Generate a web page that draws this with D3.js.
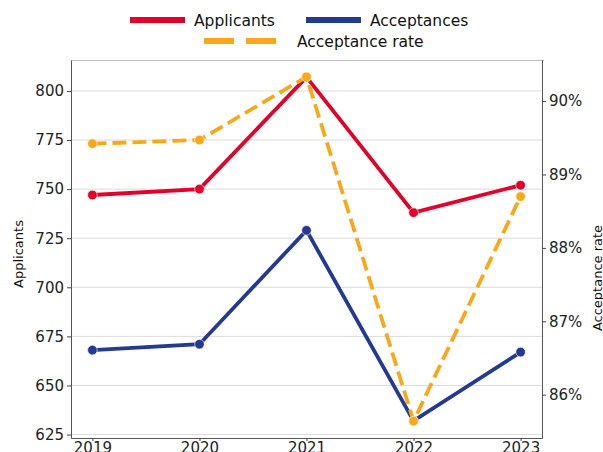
<!DOCTYPE html>
<html>
<head>
<meta charset="utf-8">
<script src="https://cdn.jsdelivr.net/npm/d3@7"></script>
<style>
  body { margin: 0; background: #fff; }
  svg { display: block; font-family: "DejaVu Sans", sans-serif; }
</style>
</head>
<body>
<svg width="603" height="452"></svg>
<script>
// data
const years = [2019, 2020, 2021, 2022, 2023]
const applicants = [747, 750, 807, 738, 752]
const acceptances = [668, 671, 729, 632, 667]
const acceptanceRate = [89.42, 89.47, 90.33, 85.64, 88.70]
const leftTicks = [625, 650, 675, 700, 725, 750, 775, 800]
const rightTicks = [86, 87, 88, 89, 90]

const red = "#e1002a", blue = "#243a92", orange = "#f8a91b"

const svg = d3.select("svg")
const plotLeft = 71, plotRight = 542, plotTop = 60, plotBottom = 438

const xScale = d3.scaleLinear().domain([2018.8, 2023.2]).range([plotLeft, plotRight])
const yLeft = d3.scaleLinear().domain([623.25, 815.75]).range([plotBottom, plotTop])
const yRight = d3.scaleLinear().domain([85.41, 90.56]).range([plotBottom, plotTop])

// grid
svg.append("g")
    .selectAll("line")
    .data(leftTicks)
    .enter()
    .append("line")
    .attr("x1", plotLeft).attr("x2", plotRight)
    .attr("y1", d => yLeft(d)).attr("y2", d => yLeft(d))
    .attr("stroke", "#dcdcdc")
    .attr("stroke-width", 1)

// top spine
svg.append("line")
    .attr("x1", plotLeft).attr("x2", plotRight + 2)
    .attr("y1", plotTop + 0.5).attr("y2", plotTop + 0.5)
    .attr("stroke", "#bbb")

function styleAxis(g) {
    g.selectAll("text").attr("font-size", 15).attr("fill", "#222")
    g.selectAll("line").attr("stroke", "#444")
    g.select("path.domain").attr("stroke", "#555")
    g.attr("font-family", "DejaVu Sans, sans-serif")
}

svg.append("g")
    .attr("transform", `translate(${plotLeft},0)`)
    .call(d3.axisLeft(yLeft).tickValues(leftTicks).tickSize(4).tickSizeOuter(0).tickPadding(3))
    .call(styleAxis)

svg.append("g")
    .attr("transform", `translate(${plotRight},0)`)
    .call(d3.axisRight(yRight).tickValues(rightTicks).tickSize(4).tickSizeOuter(0).tickPadding(3)
        .tickFormat(d => d + "%"))
    .call(styleAxis)

svg.append("g")
    .attr("transform", `translate(0,${plotBottom})`)
    .call(d3.axisBottom(xScale).tickValues(years).tickFormat(d3.format("d")).tickSize(3).tickSizeOuter(0).tickPadding(1))
    .call(styleAxis)

// axis titles
svg.append("text")
    .attr("transform", `translate(23,${(plotTop + plotBottom) / 2 + 5}) rotate(-90)`)
    .attr("text-anchor", "middle")
    .attr("font-size", 13)
    .attr("fill", "#111")
    .text("Applicants")

svg.append("text")
    .attr("transform", `translate(602,${(plotTop + plotBottom) / 2 + 29}) rotate(-90)`)
    .attr("text-anchor", "middle")
    .attr("font-size", 13)
    .attr("fill", "#111")
    .text("Acceptance rate")

// lines
function drawSeries(values, yScale, color, dashed) {
    const pts = years.map((y, i) => [y, values[i]])
    const line = d3.line().x(d => xScale(d[0])).y(d => yScale(d[1]))
    const g = svg.append("g")
    g.append("path")
        .attr("d", line(pts))
        .attr("fill", "none")
        .attr("stroke", color)
        .attr("stroke-width", 3.8)
        .attr("stroke-dasharray", dashed ? "14,6" : null)
    g.selectAll("circle")
        .data(pts)
        .enter()
        .append("circle")
        .attr("cx", d => xScale(d[0]))
        .attr("cy", d => yScale(d[1]))
        .attr("r", 4.8)
        .attr("fill", color)
        .attr("stroke", "#fff")
        .attr("stroke-width", 0.6)
}

drawSeries(applicants, yLeft, red, false)
drawSeries(acceptances, yLeft, blue, false)
drawSeries(acceptanceRate, yRight, orange, true)

// legend
const legendItems = [
    { label: "Applicants", color: red, dashed: false, x: 130, y: 20 },
    { label: "Acceptances", color: blue, dashed: false, x: 306, y: 20 },
    { label: "Acceptance rate", color: orange, dashed: true, x: 204, y: 41 }
]
const lg = svg.append("g").selectAll("g")
    .data(legendItems)
    .enter()
    .append("g")
    .attr("transform", d => `translate(${d.x},${d.y})`)

lg.append("line")
    .attr("x1", 0).attr("x2", d => d.dashed ? 72 : 55)
    .attr("y1", 0).attr("y2", 0)
    .attr("stroke", d => d.color)
    .attr("stroke-width", 6)
    .attr("stroke-dasharray", d => d.dashed ? "30,12" : null)

lg.append("text")
    .attr("x", d => d.dashed ? 93 : 64)
    .attr("y", 5.5)
    .attr("font-size", 15.5)
    .attr("fill", "#111")
    .text(d => d.label)
</script>
</body>
</html>
